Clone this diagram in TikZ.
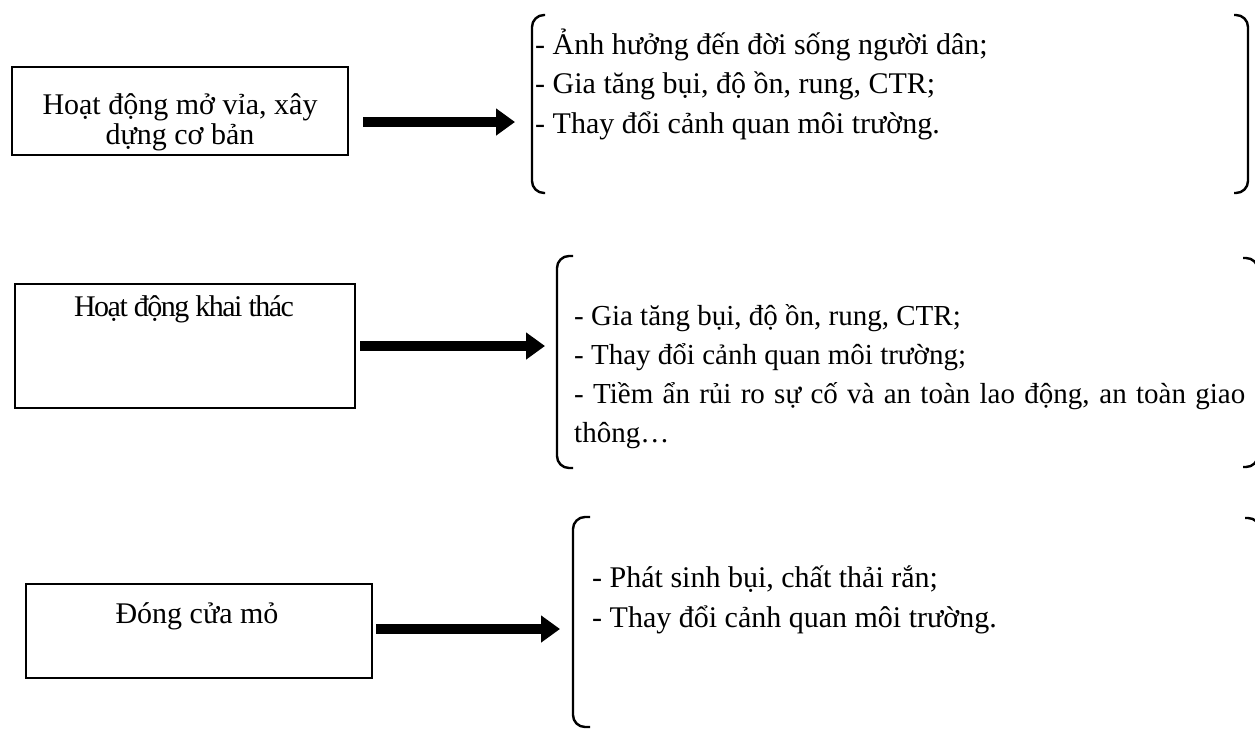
\documentclass[tikz,border=0pt]{standalone}
\usepackage{fontspec}
\setmainfont{Liberation Serif}
\usetikzlibrary{arrows.meta}
\tikzset{
  stagebox/.style   = {shape=rectangle, draw, line width=1.5pt, inner sep=0pt},
  stagetext/.style  = {align=center, inner sep=0pt, font=\fontsize{30pt}{30pt}\selectfont},
  effects/.style    = {align=left, inner sep=0pt, font=\fontsize{30pt}{39.5pt}\selectfont},
  bracketline/.style= {line width=2.4pt, rounded corners=12pt},
  bigarrow/.style   = {line width=10pt, -{Triangle[length=19pt,width=26pt]}}
}
\begin{document}
\begin{tikzpicture}[x=1pt,y=-1pt]
\clip (0,0) rectangle (1255,729);
% the three stages
\node [stagebox, minimum width=336pt, minimum height=88pt]  (mo)   at (180,111) {};
\node [stagebox, minimum width=340pt, minimum height=124pt] (khai) at (185,346) {};
\node [stagebox, minimum width=346pt, minimum height=94pt]  (dong) at (199,631) {};
\node [stagetext, anchor=base] (moT)   at (180,144) {Hoạt động mở vỉa, xây\\dựng cơ bản};
\node [stagetext, anchor=base] (khaiT) at (184,316) {\addfontfeature{LetterSpace=-5}Hoạt động khai thác};
\node [stagetext, anchor=base] (dongT) at (197,623) {Đóng cửa mỏ};
% arrow ends
\coordinate (moA)   at (363,122);  \coordinate (moB)   at (515,122);
\coordinate (khaiA) at (360,346);  \coordinate (khaiB) at (545,346);
\coordinate (dongA) at (376,629);  \coordinate (dongB) at (560,629);
\draw [bigarrow] (moA) -- (moB);
\draw [bigarrow] (khaiA) -- (khaiB);
\draw [bigarrow] (dongA) -- (dongB);
% brackets
\draw [bracketline] (545,15) -- (532,15) -- (532,193) -- (545,193);
\draw [bracketline] (1234,15) -- (1248,15) -- (1248,193) -- (1234,193);
\draw [bracketline] (573,256) -- (557,256) -- (557,468) -- (573,468);
\draw [bracketline] (1243,258) -- (1258,258) -- (1258,467) -- (1243,467);
\draw [bracketline] (590,517) -- (573,517) -- (573,727) -- (590,727);
\draw [bracketline] (1245,518) -- (1260,518) -- (1260,740) -- (1245,740);
% effects (base = last line)
\node [effects, anchor=base west] (moE) at (535,133)
  {- Ảnh hưởng đến đời sống người dân;\\
   - Gia tăng bụi, độ ồn, rung, CTR;\\
   - Thay đổi cảnh quan môi trường.};
\node [effects, anchor=base west, font=\fontsize{29pt}{39pt}\selectfont] (khaiE) at (574,442)
  {- Gia tăng bụi, độ ồn, rung, CTR;\\
   - Thay đổi cảnh quan môi trường;\\
   \makebox[671pt][s]{- Tiềm ẩn rủi ro sự cố và an toàn lao động, an toàn giao}\\
   thông…};
\node [effects, anchor=base west] (dongE) at (592,627)
  {- Phát sinh bụi, chất thải rắn;\\
   - Thay đổi cảnh quan môi trường.};
\end{tikzpicture}
\end{document}
